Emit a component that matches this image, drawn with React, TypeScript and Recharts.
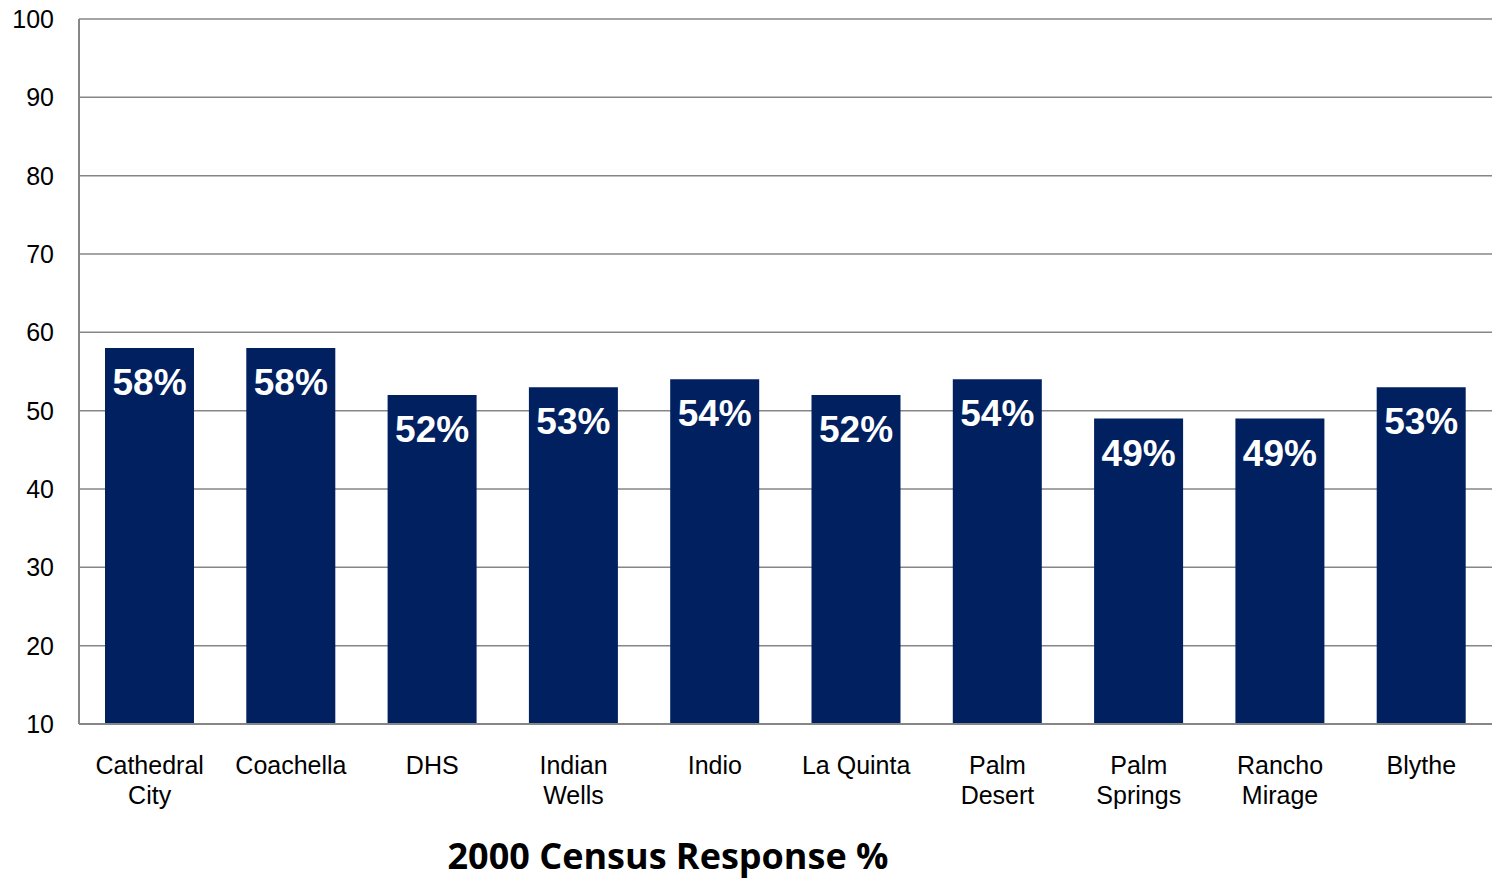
import { BarChart, Bar, XAxis, YAxis, CartesianGrid, LabelList } from "recharts";

const cities = [
  "Cathedral City",
  "Coachella",
  "DHS",
  "Indian Wells",
  "Indio",
  "La Quinta",
  "Palm Desert",
  "Palm Springs",
  "Rancho Mirage",
  "Blythe",
];
const responseRates = [58, 58, 52, 53, 54, 52, 54, 49, 49, 53];
const yTicks = [10, 20, 30, 40, 50, 60, 70, 80, 90, 100];

const data = cities.map((city, i) => ({ city, rate: responseRates[i] }));

// city names wrap onto two lines like in the original slide
const CityTick = (props: any) => {
  const { x, y, payload } = props;
  const words = String(payload.value).split(" ");
  const lines = words.length > 1 && payload.value !== "La Quinta" ? words : [payload.value];
  return (
    <text
      x={x}
      y={y}
      textAnchor="middle"
      fill="#000"
      fontSize={25}
      fontFamily="'Liberation Sans', Arial, sans-serif"
    >
      {lines.map((line: string, i: number) => (
        <tspan key={i} x={x} dy={i === 0 ? 42 : 30}>
          {line}
        </tspan>
      ))}
    </text>
  );
};

const PctLabel = (props: any) => {
  const { x, y, width, value } = props;
  return (
    <text
      x={x + width / 2}
      y={y + 47}
      textAnchor="middle"
      fill="#fff"
      fontSize={37}
      fontWeight="bold"
      fontFamily="'Liberation Sans', Arial, sans-serif"
    >
      {value}%
    </text>
  );
};

export default function App() {
  return (
    <div
      style={{
        position: "absolute",
        left: 0,
        top: 0,
        width: 1495,
        height: 880,
        background: "#fff",
        overflow: "hidden",
      }}
    >
      <BarChart
        width={1495}
        height={880}
        data={data}
        margin={{ top: 19, right: 3, bottom: 0, left: 0 }}
        barSize={89}
      >
        <CartesianGrid vertical={false} stroke="#868686" strokeWidth={1.5} />
        <XAxis
          dataKey="city"
          interval={0}
          tickLine={false}
          axisLine={{ stroke: "#868686", strokeWidth: 2 }}
          tick={<CityTick />}
          height={156}
        />
        <YAxis
          width={79}
          domain={[10, 100]}
          ticks={yTicks}
          interval={0}
          tickLine={false}
          tickSize={0}
          tickMargin={25}
          axisLine={{ stroke: "#868686", strokeWidth: 2 }}
          tick={{
            fill: "#000",
            fontSize: 25,
            fontFamily: "'Liberation Sans', Arial, sans-serif",
          }}
        />
        <Bar dataKey="rate" fill="#00205f" isAnimationActive={false}>
          <LabelList dataKey="rate" content={<PctLabel />} />
        </Bar>
      </BarChart>
      <div
        style={{
          position: "absolute",
          left: 0,
          width: 1336,
          top: 834,
          textAlign: "center",
          fontFamily: "'Open Sans', Lato, sans-serif",
          fontWeight: 700,
          fontSize: 36,
          color: "#000",
          lineHeight: "44px",
        }}
      >
        2000 Census Response %
      </div>
    </div>
  );
}
